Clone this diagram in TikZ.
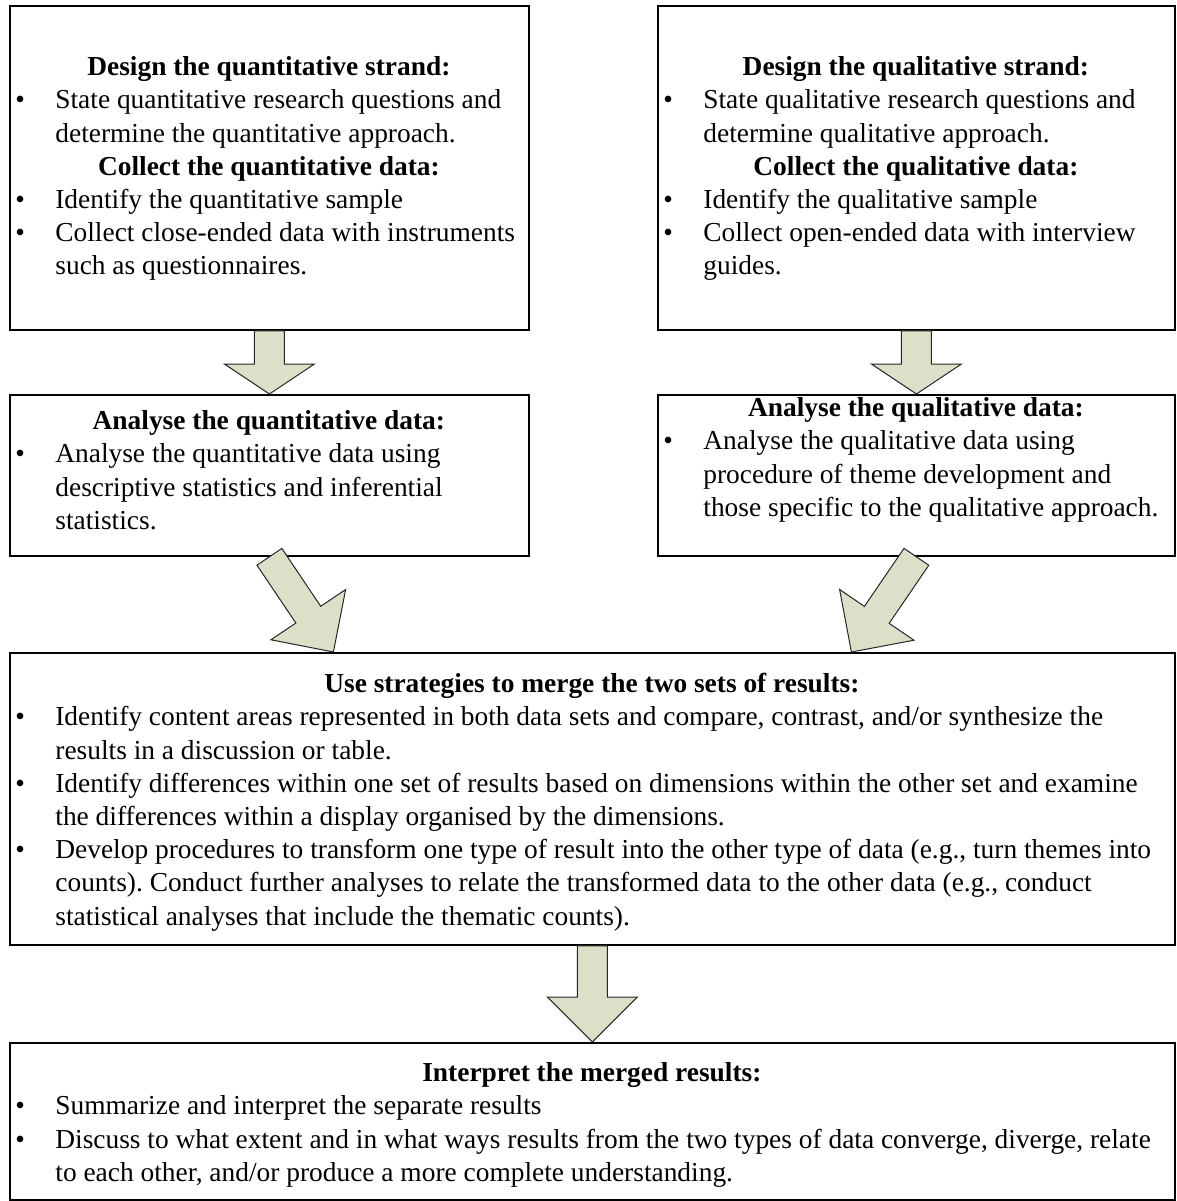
\documentclass[tikz,border=0pt]{standalone}
\usepackage{fontspec}
\setmainfont{Liberation Serif}
\usetikzlibrary{calc, positioning}
\definecolor{arrowfill}{RGB}{220,224,200}
\tikzset{
    flow/.style={x=0.5pt, y=-0.5pt, font=\fontsize{13.7pt}{16.6pt}\selectfont\frenchspacing},
    box/.style={draw, line width=0.9pt, inner sep=0pt, anchor=north west},
    boxtext/.style={inner sep=0pt, anchor=north west},
    fat/.style={draw=black!85, line width=0.5pt, fill=arrowfill, line join=miter},
}
% block arrow: tail #1, tip #2, head length #3
\newcommand{\fatarrow}[3]{%
    \coordinate (neck) at ($(#2)!#3!(#1)$);
    \draw[fat] ($(#1)!7.5pt!90:(#2)$) -- ($(neck)!7.5pt!90:(#2)$) -- ($(neck)!22.5pt!90:(#2)$)
        -- (#2) -- ($(neck)!22.5pt!-90:(#2)$) -- ($(neck)!7.5pt!-90:(#2)$) -- ($(#1)!7.5pt!-90:(#2)$) -- cycle;
}
\newcommand{\hd}[2]{\multicolumn{2}{@{}l@{}}{\makebox[#1][c]{\bfseries #2}}}

\begin{document}
\begin{tikzpicture}[flow]
    \useasboundingbox (0,0) rectangle (1177,1201);

    % boxes
    \node[box, minimum width=259.5pt, minimum height=162pt] (quan)   at (9,5)    {};
    \node[box, minimum width=258.5pt, minimum height=162pt] (qual)   at (657,5)  {};
    \node[box, minimum width=259.5pt, minimum height=80.5pt] (quanan) at (9,394)  {};
    \node[box, minimum width=258.5pt, minimum height=80.5pt] (qualan) at (657,394) {};
    \node[box, minimum width=582.5pt, minimum height=146pt] (merge)  at (9,652)  {};
    \node[box, minimum width=582.5pt, minimum height=78.5pt] (interp) at (9,1042) {};

    % texts
    \node[boxtext] (quantxt) at ($(quan.north west)+(6,47)$) {%
        \begin{tabular}{@{}p{20pt}@{}l@{}}
        \hd{253.5pt}{Design the quantitative strand:}\\
        \textbullet & State quantitative research questions and\\
                    & determine the quantitative approach.\\
        \hd{253.5pt}{Collect the quantitative data:}\\
        \textbullet & Identify the quantitative sample\\
        \textbullet & Collect close-ended data with instruments\\
                    & such as questionnaires.
        \end{tabular}};
    \node[boxtext] (qualtxt) at ($(qual.north west)+(6,47)$) {%
        \begin{tabular}{@{}p{20pt}@{}l@{}}
        \hd{252.5pt}{Design the qualitative strand:}\\
        \textbullet & State qualitative research questions and\\
                    & determine qualitative approach.\\
        \hd{252.5pt}{Collect the qualitative data:}\\
        \textbullet & Identify the qualitative sample\\
        \textbullet & Collect open-ended data with interview\\
                    & guides.
        \end{tabular}};
    \node[boxtext] (quanantxt) at ($(quanan.north west)+(6,12)$) {%
        \begin{tabular}{@{}p{20pt}@{}l@{}}
        \hd{253.5pt}{Analyse the quantitative data:}\\
        \textbullet & Analyse the quantitative data using\\
                    & descriptive statistics and inferential\\
                    & statistics.
        \end{tabular}};
    \node[boxtext] (qualantxt) at ($(qualan.north west)+(6,-1)$) {%
        \begin{tabular}{@{}p{20pt}@{}l@{}}
        \hd{252.5pt}{Analyse the qualitative data:}\\
        \textbullet & Analyse the qualitative data using\\
                    & procedure of theme development and\\
                    & those specific to the qualitative approach.
        \end{tabular}};
    \node[boxtext] (mergetxt) at ($(merge.north west)+(6,17)$) {%
        \begin{tabular}{@{}p{20pt}@{}l@{}}
        \hd{576.5pt}{Use strategies to merge the two sets of results:}\\
        \textbullet & Identify content areas represented in both data sets and compare, contrast, and/or synthesize the\\
                    & results in a discussion or table.\\
        \textbullet & Identify differences within one set of results based on dimensions within the other set and examine\\
                    & the differences within a display organised by the dimensions.\\
        \textbullet & Develop procedures to transform one type of result into the other type of data (e.g., turn themes into\\
                    & counts). Conduct further analyses to relate the transformed data to the other data (e.g., conduct\\
                    & statistical analyses that include the thematic counts).
        \end{tabular}};
    \node[boxtext] (interptxt) at ($(interp.north west)+(6,16)$) {%
        \begin{tabular}{@{}p{20pt}@{}l@{}}
        \hd{576.5pt}{Interpret the merged results:}\\
        \textbullet & Summarize and interpret the separate results\\
        \textbullet & Discuss to what extent and in what ways results from the two types of data converge, diverge, relate\\
                    & to each other, and/or produce a more complete understanding.
        \end{tabular}};

    % arrows
    \coordinate (tipL) at ($(merge.north)+(-259,0)$);
    \coordinate (tipR) at ($(merge.north)+(259,0)$);
    \fatarrow{quan.south}{quanan.north}{15pt}
    \fatarrow{qual.south}{qualan.north}{15pt}
    \fatarrow{quanan.south}{tipL}{22.5pt}
    \fatarrow{qualan.south}{tipR}{22.5pt}
    \fatarrow{merge.south}{interp.north}{22.5pt}
\end{tikzpicture}
\end{document}
